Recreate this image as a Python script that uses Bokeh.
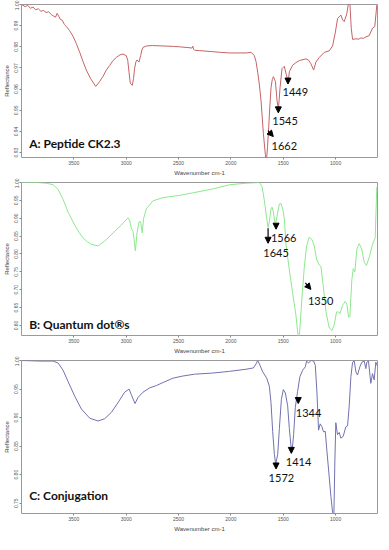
from bokeh.plotting import figure
from bokeh.layouts import column
from bokeh.models import Range1d, FixedTicker, Arrow, NormalHead, ColumnDataSource, NumeralTickFormatter
from bokeh.core.properties import value
from bokeh.embed import file_html
from bokeh.resources import INLINE

# ---------------- data ----------------
x_ticks = [3500, 3000, 2500, 2000, 1500, 1000]

A_wn = [4000, 3965, 3940, 3915, 3890, 3865, 3840, 3815, 3790, 3765, 3740, 3715, 3695, 3675, 3660,
        3645, 3630, 3610, 3590, 3571, 3540, 3508, 3476, 3444, 3412, 3381, 3340, 3291, 3255, 3222,
        3190, 3158, 3126, 3094, 3060, 3031, 2999, 2985, 2973, 2961, 2942, 2930, 2920, 2908, 2897,
        2878, 2862, 2850, 2840, 2808, 2750, 2649, 2550, 2491, 2400, 2372, 2364, 2356, 2348, 2300,
        2173, 2100, 2014, 1930, 1855, 1807, 1776, 1760, 1744, 1728, 1712, 1690, 1671, 1662, 1650,
        1639, 1628, 1617, 1605, 1594, 1575, 1559, 1547, 1539, 1531, 1512, 1490, 1474, 1458, 1449,
        1442, 1411, 1380, 1347, 1284, 1260, 1236, 1210, 1188, 1156, 1108, 1061, 1029, 1004, 981,
        960, 949, 933, 918, 893, 876, 864, 851, 838, 806, 780, 759, 735, 711, 679, 648, 626, 607, 600]
A_val = [1.0, 0.9990, 0.9996, 0.9982, 0.9988, 0.9975, 0.9980, 0.9968, 0.9972, 0.9962, 0.9966, 0.9952,
         0.9946, 0.9940, 0.9958, 0.9945, 0.9930, 0.9925, 0.9905, 0.9896, 0.9876, 0.9850, 0.9815,
         0.9774, 0.9730, 0.9690, 0.9650, 0.9613, 0.9635, 0.9660, 0.9690, 0.9712, 0.9735, 0.9750,
         0.9762, 0.9766, 0.9758, 0.9735, 0.9680, 0.9628, 0.9618, 0.9650, 0.9697, 0.9728, 0.9738,
         0.9728, 0.9758, 0.9785, 0.9797, 0.9804, 0.9806, 0.9804, 0.9802, 0.9800, 0.9796, 0.9794,
         0.9803, 0.9788, 0.9784, 0.9782, 0.9777, 0.9774, 0.9771, 0.9771, 0.9771, 0.9774, 0.9758,
         0.9730, 0.9680, 0.9620, 0.9544, 0.9391, 0.9290, 0.9250, 0.9330, 0.9420, 0.9520, 0.9606,
         0.9645, 0.9659, 0.9636, 0.9544, 0.9506, 0.9550, 0.9606, 0.9697, 0.9708, 0.9674, 0.9644,
         0.9650, 0.9682, 0.9713, 0.9725, 0.9735, 0.9743, 0.9738, 0.9720, 0.9690, 0.9728, 0.9750,
         0.9774, 0.9781, 0.9804, 0.9865, 0.9934, 0.9945, 0.9950, 0.9927, 0.9919, 0.9957, 1.0010,
         1.0010, 0.9888, 0.9835, 0.9838, 0.9836, 0.9842, 0.9840, 0.9847, 0.9853, 0.9888, 0.9896,
         0.9995, 1.0]
A_yticks = [0.93, 0.94, 0.95, 0.96, 0.97, 0.98, 0.99, 1.00]

B_wn = [4000, 3850, 3762, 3698, 3675, 3650, 3603, 3555, 3492, 3450, 3412, 3370, 3333, 3269, 3206,
        3126, 3047, 2983, 2967, 2951, 2935, 2924, 2913, 2904, 2897, 2878, 2862, 2847, 2834, 2808,
        2745, 2649, 2491, 2364, 2173, 2014, 1855, 1728, 1703, 1680, 1658, 1645, 1633, 1617, 1607,
        1594, 1582, 1569, 1553, 1537, 1521, 1505, 1490, 1474, 1458, 1442, 1411, 1379, 1360, 1350,
        1341, 1322, 1299, 1277, 1252, 1226, 1204, 1182, 1163, 1140, 1118, 1092, 1061, 1035, 1013,
        991, 972, 959, 934, 909, 893, 876, 864, 845, 832, 816, 797, 775, 750, 727, 705, 679, 648,
        622, 607, 600]
B_val = [1.0, 1.0, 0.998, 0.9937, 0.988, 0.980, 0.953, 0.917, 0.881, 0.860, 0.845, 0.834, 0.827,
         0.8225, 0.836, 0.8586, 0.881, 0.901, 0.8946, 0.872, 0.863, 0.840, 0.809, 0.835, 0.859,
         0.890, 0.890, 0.859, 0.899, 0.926, 0.9486, 0.9577, 0.964, 0.971, 0.982, 0.9937, 0.998,
         1.0, 0.989, 0.9486, 0.899, 0.874, 0.890, 0.926, 0.931, 0.917, 0.890, 0.890, 0.917, 0.940,
         0.941, 0.926, 0.899, 0.827, 0.791, 0.755, 0.692, 0.629, 0.575, 0.565, 0.593, 0.674, 0.764,
         0.8225, 0.847, 0.840, 0.8225, 0.786, 0.773, 0.764, 0.710, 0.638, 0.593, 0.586, 0.602,
         0.638, 0.6378, 0.633, 0.656, 0.667, 0.660, 0.624, 0.624, 0.728, 0.759, 0.750, 0.8135,
         0.829, 0.8135, 0.777, 0.768, 0.791, 0.827, 0.845, 0.985, 0.99]
B_yticks = [0.60, 0.65, 0.70, 0.75, 0.80, 0.85, 0.90, 0.95, 1.00]

C_wn = [4000, 3825, 3698, 3650, 3603, 3555, 3492, 3428, 3349, 3269, 3206, 3142, 3079, 3015, 2973,
        2951, 2916, 2888, 2840, 2777, 2713, 2649, 2554, 2459, 2348, 2173, 2014, 1855, 1785, 1760,
        1744, 1722, 1696, 1658, 1633, 1617, 1601, 1585, 1572, 1553, 1537, 1518, 1499, 1480, 1458,
        1442, 1426, 1414, 1401, 1385, 1363, 1341, 1315, 1290, 1277, 1258, 1236, 1210, 1194, 1178,
        1163, 1147, 1131, 1115, 1099, 1083, 1061, 1045, 1029, 1017, 1007, 998, 982, 966, 950, 928,
        902, 886, 870, 854, 838, 822, 806, 791, 769, 750, 727, 711, 702, 686, 664, 648, 632, 616, 600]
C_val = [1.0, 0.999, 0.999, 0.9955, 0.983, 0.963, 0.9376, 0.915, 0.899, 0.894, 0.898, 0.909, 0.926,
         0.9444, 0.950, 0.940, 0.9246, 0.935, 0.9444, 0.952, 0.956, 0.9614, 0.969, 0.9728, 0.976,
         0.978, 0.981, 0.9847, 0.987, 0.994, 1.0, 0.9915, 0.980, 0.969, 0.955, 0.926, 0.8753,
         0.8356, 0.8186, 0.8356, 0.881, 0.932, 0.949, 0.943, 0.9206, 0.881, 0.850, 0.845, 0.870,
         0.918, 0.946, 0.9717, 0.983, 0.9887, 0.9989, 0.9955, 1.0, 0.999, 0.9915, 0.943, 0.878,
         0.889, 0.884, 0.875, 0.876, 0.841, 0.796, 0.762, 0.734, 0.725, 0.824, 0.891, 0.870, 0.874,
         0.864, 0.867, 0.884, 0.8855, 0.9206, 0.9717, 0.997, 0.999, 0.980, 0.9745, 0.9887, 0.997,
         0.999, 0.9858, 0.997, 0.999, 0.960, 0.977, 0.966, 0.997, 0.99]
C_yticks = [0.75, 0.80, 0.85, 0.90, 0.95, 1.00]

# annotations: peak labels (wavenumber text, arrow start/end, text position)
A_peaks = ["1449", "1545", "1662"]
A_arrow_x0 = [1455, 1547, 1646]
A_arrow_x1 = [1455, 1547, 1595]
A_arrow_y0 = [0.9651, 0.9514, 0.9404]
A_arrow_y1 = [0.9624, 0.9488, 0.9376]
A_text_x = [1385, 1483, 1490]
A_text_y = [0.9586, 0.9448, 0.9330]

B_peaks = ["1566", "1645", "1350"]
B_arrow_x0 = [1569, 1645, 1289]
B_arrow_x1 = [1569, 1645, 1236]
B_arrow_y0 = [0.8838, 0.872, 0.719]
B_arrow_y1 = [0.8694, 0.830, 0.701]
B_text_x = [1496, 1569, 1143]
B_text_y = [0.845, 0.8036, 0.669]

C_peaks = ["1344", "1414", "1572"]
C_arrow_x0 = [1357, 1423, 1569]
C_arrow_x1 = [1357, 1423, 1569]
C_arrow_y0 = [0.9348, 0.847, 0.8197]
C_arrow_y1 = [0.9246, 0.8373, 0.810]
C_text_x = [1258, 1354, 1518]
C_text_y = [0.9087, 0.8226, 0.7948]

panel_titles = ["A: Peptide CK2.3", "B: Quantum dot®s", "C: Conjugation"]
title_x = [3927, 3927, 3927]
title_y = [0.9344, 0.6036, 0.763]

y_ranges = [(0.9277, 1.0), (0.572, 1.0), (0.732, 1.0)]
colors = ["#c46466", "#8ee88e", "#7272b0"]
panel_heights = [178, 178, 178]


def make_panel(h, wn, val, yticks, yr, color, peaks, ax0, ax1, ay0, ay1, tx, ty, title, tix, tiy):
    p = figure(width=381, height=h, output_backend="svg", toolbar_location=None,
               x_range=Range1d(4000, 600), y_range=Range1d(*yr),
               min_border_left=20, min_border_right=4, min_border_top=4, min_border_bottom=17,
               background_fill_color="white", border_fill_color="white")
    p.grid.visible = False
    p.outline_line_color = "#9a9a9a"
    p.outline_line_width = 1
    p.line(wn, val, line_color=color, line_width=1)

    p.xaxis.ticker = FixedTicker(ticks=x_ticks)
    p.yaxis.ticker = FixedTicker(ticks=yticks)
    p.yaxis.formatter = NumeralTickFormatter(format="0.00")
    for ax in (p.xaxis, p.yaxis):
        ax.axis_line_color = None
        ax.major_tick_line_color = "#888888"
        ax.major_tick_in = 0
        ax.major_tick_out = 2
        ax.minor_tick_line_color = None
        ax.major_label_text_font_size = "5px"
        ax.major_label_text_color = "#555555"
        ax.major_label_text_font = "Liberation Sans"
        ax.major_label_standoff = 1
        ax.axis_label_text_font_size = "6px"
        ax.axis_label_text_font_style = "normal"
        ax.axis_label_text_color = "#444444"
        ax.axis_label_text_font = "Liberation Sans"
        ax.axis_label_standoff = 2
    p.xaxis.axis_label = "Wavenumber cm-1"
    p.yaxis.axis_label = "Reflectance"
    p.yaxis.major_label_orientation = "vertical"

    for i in range(len(peaks)):
        p.add_layout(Arrow(end=NormalHead(size=6, fill_color="black", line_color="black"),
                           x_start=ax0[i], y_start=ay0[i], x_end=ax1[i], y_end=ay1[i],
                           line_color="black", line_width=1.2))
    src = ColumnDataSource(dict(x=tx, y=ty, t=peaks))
    p.text(x="x", y="y", text="t", source=src, text_font=value("Lato"),
           text_font_size="11px", text_color="#111111",
           text_align="center", text_baseline="middle")
    p.text(x=[tix], y=[tiy], text=[title], text_font=value("Lato"),
           text_font_size="12px", text_font_style="bold", text_color="#111111",
           text_align="left", text_baseline="middle")
    return p


p1 = make_panel(panel_heights[0], A_wn, A_val, A_yticks, y_ranges[0], colors[0], A_peaks,
                A_arrow_x0, A_arrow_x1, A_arrow_y0, A_arrow_y1, A_text_x, A_text_y,
                panel_titles[0], title_x[0], title_y[0])
p2 = make_panel(panel_heights[1], B_wn, B_val, B_yticks, y_ranges[1], colors[1], B_peaks,
                B_arrow_x0, B_arrow_x1, B_arrow_y0, B_arrow_y1, B_text_x, B_text_y,
                panel_titles[1], title_x[1], title_y[1])
p3 = make_panel(panel_heights[2], C_wn, C_val, C_yticks, y_ranges[2], colors[2], C_peaks,
                C_arrow_x0, C_arrow_x1, C_arrow_y0, C_arrow_y1, C_text_x, C_text_y,
                panel_titles[2], title_x[2], title_y[2])

layout = column(p1, p2, p3, spacing=0)
open("out.html", "w").write(file_html(layout, INLINE))
